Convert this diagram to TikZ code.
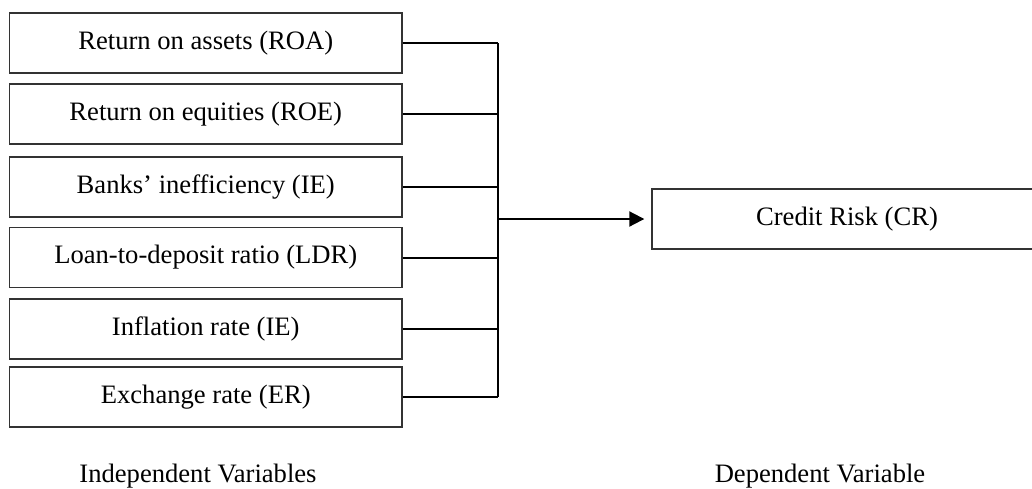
\documentclass[tikz,border=0pt]{standalone}
\usepackage{fontspec}
\setmainfont{Liberation Serif}
\usetikzlibrary{arrows.meta}
\begin{document}
\begin{tikzpicture}[x=1pt,y=-1pt,
  varbox/.style={draw=black!80,line width=1.4pt,minimum width=392.5pt,minimum height=60pt,inner sep=0pt,font=\fontsize{26.6}{32}\selectfont},
  conn/.style={line width=2pt},
  lbl/.style={font=\fontsize{26.6}{32}\selectfont,anchor=base,inner sep=0pt}]
\useasboundingbox (0,0) rectangle (1032,488);
\node[varbox] (b1) at (205.75,43) {Return on assets (ROA)};
\node[varbox] (b2) at (205.75,114) {Return on equities (ROE)};
\node[varbox] (b3) at (205.75,187) {Banks’ inefficiency (IE)};
\node[varbox] (b4) at (205.75,257.5) {Loan-to-deposit ratio (LDR)};
\node[varbox] (b5) at (205.75,329) {Inflation rate (IE)};
\node[varbox] (b6) at (205.75,397) {Exchange rate (ER)};
\node[varbox,minimum width=390pt] (cr) at (847,219) {Credit Risk (CR)};
\coordinate (jx) at (498,0);
\foreach \b in {b1,b2,b3,b4,b5,b6}
  \draw[conn] (\b.east) -- (\b.east -| jx);
\draw[conn] (b1.east -| jx) -- (b6.east -| jx);
\draw[conn,-{Triangle[length=15pt,width=15pt]},shorten >=7pt] (jx |- cr.west) -- (cr.west);
\node[lbl] (iv) at (198,482) {Independent Variables};
\node[lbl] (dv) at (820,482) {Dependent Variable};
\end{tikzpicture}
\end{document}
